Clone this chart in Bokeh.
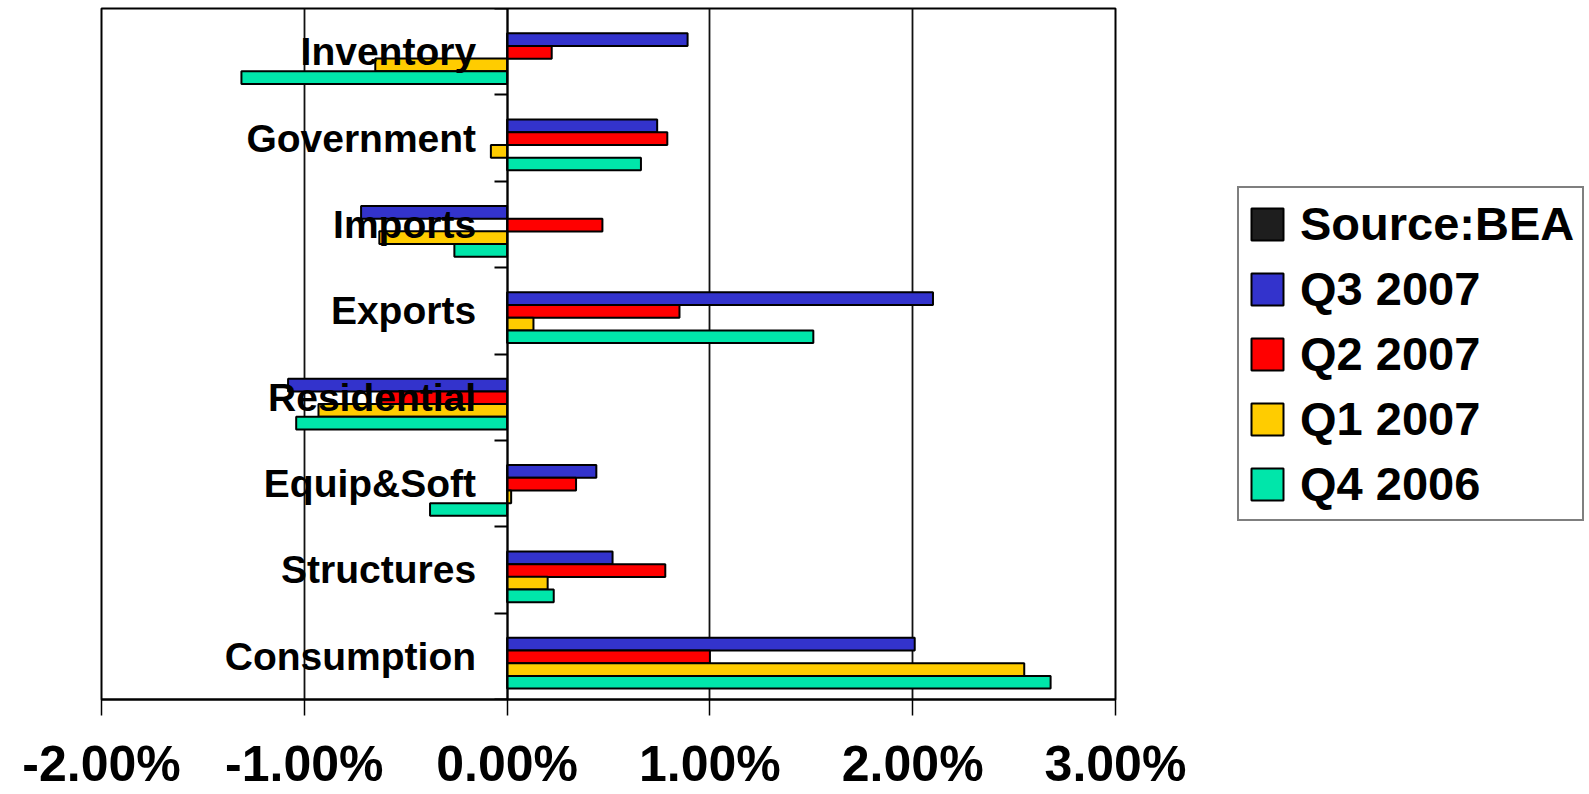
import numpy as np
from bokeh.plotting import figure
from bokeh.layouts import row
from bokeh.models import (Range1d, FixedTicker, LinearAxis, Legend, LegendItem,
                          PrintfTickFormatter, ColumnDataSource)
from bokeh.transform import dodge
from bokeh.embed import file_html
from bokeh.resources import INLINE

# GDP contribution by component, percentage points
categories = ["Inventory", "Government", "Imports", "Exports",
              "Residential", "Equip&Soft", "Structures", "Consumption"]
series_names = ["Q3 2007", "Q2 2007", "Q1 2007", "Q4 2006"]
q3_2007 = [0.89, 0.74, -0.72, 2.10, -1.08, 0.44, 0.52, 2.01]
q2_2007 = [0.22, 0.79, 0.47, 0.85, -0.62, 0.34, 0.78, 1.00]
q1_2007 = [-0.65, -0.08, -0.63, 0.13, -0.93, 0.02, 0.20, 2.55]
q4_2006 = [-1.31, 0.66, -0.26, 1.51, -1.04, -0.38, 0.23, 2.68]
x_ticks = [-2, -1, 0, 1, 2, 3]
source_label = "Source:BEA"

colors = ["#3333CC", "#FF0000", "#FFCC00", "#00E6AA"]
note_color = "#1E1E1E"
offsets = [0.14, -0.007, -0.153, -0.30]
bar_height = 0.147
FONT = "Liberation Sans"

n = len(categories)
centers = [n - i - 0.5 for i in range(n)]
boundaries = list(range(n + 1))

src = ColumnDataSource(dict(center=centers, cat=categories,
                            q3=q3_2007, q2=q2_2007, q1=q1_2007, q4=q4_2006))

p = figure(width=1197, height=794, x_range=Range1d(x_ticks[0], x_ticks[-1]),
           y_range=Range1d(0, n), output_backend="svg", toolbar_location=None,
           y_axis_location=None, min_border_left=101, min_border_right=82,
           min_border_top=8, min_border_bottom=0)
p.background_fill_color = "white"
p.border_fill_color = "white"
p.outline_line_color = "black"
p.outline_line_width = 2

# vertical gridlines at each whole percent
p.xgrid.ticker = FixedTicker(ticks=x_ticks)
p.xgrid.grid_line_color = "#111111"
p.xgrid.grid_line_width = 1.8
p.ygrid.visible = False

for col, color, off in zip(["q3", "q2", "q1", "q4"], colors, offsets):
    p.hbar(y=dodge("center", off, range=p.y_range), left=0, right=col,
           height=bar_height, source=src, fill_color=color,
           line_color="black", line_width=2)

# bottom axis
xa = p.xaxis[0]
xa.ticker = FixedTicker(ticks=x_ticks)
xa.formatter = PrintfTickFormatter(format="%.2f%%")
xa.axis_line_color = "black"
xa.axis_line_width = 2
xa.major_tick_line_color = "black"
xa.major_tick_line_width = 1.5
xa.major_tick_out = 16
xa.major_tick_in = 0
xa.minor_tick_line_color = None
xa.major_label_standoff = 20
xa.major_label_text_font = FONT
xa.major_label_text_font_style = "bold"
xa.major_label_text_font_size = "50px"
xa.major_label_text_color = "black"

# category axis sitting on the zero line, ticks between groups
ya = LinearAxis(fixed_location=0,
                ticker=FixedTicker(ticks=centers, minor_ticks=boundaries),
                major_label_overrides={c: lab for c, lab in zip(centers, categories)})
ya.axis_line_color = "black"
ya.axis_line_width = 2
ya.major_tick_line_color = None
ya.major_tick_out = 0
ya.major_tick_in = 0
ya.minor_tick_line_color = "black"
ya.minor_tick_line_width = 2
ya.minor_tick_out = 13
ya.minor_tick_in = 0
ya.major_label_standoff = 18
ya.major_label_text_font = FONT
ya.major_label_text_font_style = "bold"
ya.major_label_text_font_size = "39px"
ya.major_label_text_color = "black"
p.add_layout(ya, "left")

# legend panel beside the chart
lp = figure(width=392, height=794, x_range=Range1d(0, 1), y_range=Range1d(0, 1),
            output_backend="svg", toolbar_location=None,
            x_axis_location=None, y_axis_location=None,
            min_border=0, outline_line_color=None)
lp.xgrid.visible = False
lp.ygrid.visible = False

swatches = []
for color in [note_color] + colors:
    # single NaN row: nothing is drawn, only the legend swatch style is used
    s = ColumnDataSource(dict(y=np.array([np.nan]), left=np.array([0.0]),
                              right=np.array([0.0])))
    swatches.append(lp.hbar(y="y", left="left", right="right", height=0.1, source=s,
                            fill_color=color, line_color="black", line_width=2))

legend = Legend(items=[LegendItem(label=lab, renderers=[r])
                       for lab, r in zip([source_label] + series_names, swatches)],
                location=(40, 178), orientation="vertical")
legend.margin = 0
legend.padding = 8
legend.spacing = 10
legend.glyph_width = 40
legend.glyph_height = 40
legend.label_standoff = 13
legend.label_text_font = FONT
legend.label_text_font_style = "bold"
legend.label_text_font_size = "47px"
legend.label_text_color = "black"
legend.border_line_color = "black"
legend.border_line_width = 2
legend.background_fill_color = "white"
legend.background_fill_alpha = 1
lp.add_layout(legend, "center")

layout = row(p, lp, spacing=0)
open("out.html", "w").write(file_html(layout, INLINE))
